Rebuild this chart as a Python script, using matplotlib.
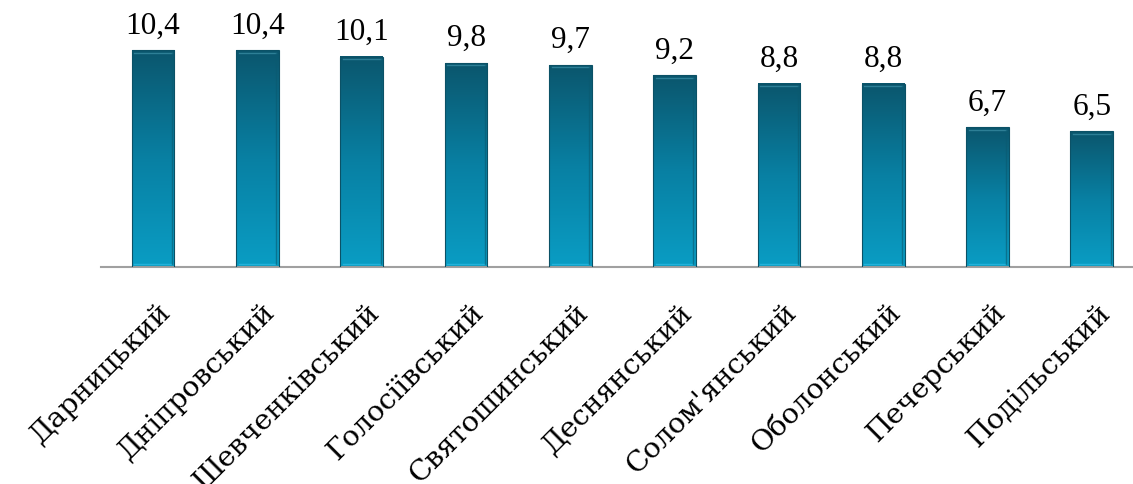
import numpy as np
import matplotlib
matplotlib.use("Agg")
import matplotlib.pyplot as plt
from matplotlib.colors import LinearSegmentedColormap

districts = ["Дарницький", "Дніпровський", "Шевченківський", "Голосіївський",
             "Святошинський", "Деснянський", "Солом'янський", "Оболонський",
             "Печерський", "Подільський"]
values = [10.4, 10.4, 10.1, 9.8, 9.7, 9.2, 8.8, 8.8, 6.7, 6.5]
value_labels = ["10,4", "10,4", "10,1", "9,8", "9,7", "9,2", "8,8", "8,8", "6,7", "6,5"]

fig = plt.figure(figsize=(11.33, 4.84), dpi=100)
ax = fig.add_axes([0.0891, 0.449, 0.9206, 0.5157])

x = np.arange(len(values))
bars = ax.bar(x, values, width=0.41, color="none", edgecolor="#0b5166", linewidth=0.8, zorder=3)

# vertical gradient, dark teal at the top to bright cyan at the bottom
cmap = LinearSegmentedColormap.from_list("bar", ["#0a9dc4", "#0880a3", "#0b566d"])
grad = np.linspace(0, 1, 256).reshape(-1, 1)
for b in bars:
    x0, w, h = b.get_x(), b.get_width(), b.get_height()
    ax.imshow(grad, cmap=cmap, aspect="auto", origin="lower",
              extent=(x0, x0 + w, 0, h), zorder=2, interpolation="bicubic")
    # bevel highlights
    ax.plot([x0 + w * 0.06, x0 + w * 0.94], [h - 0.12, h - 0.12], color="#2d7f96", lw=1.0, zorder=4)
    ax.plot([x0 + w * 0.06, x0 + w * 0.94], [0.12, 0.12], color="#22b2da", lw=1.0, zorder=4)
    ax.plot([x0 + w * 0.94, x0 + w * 0.94], [0.12, h - 0.12], color="#0a5a70", lw=1.0, zorder=4, alpha=0.6)

for xi, v, lab in zip(x, values, value_labels):
    ax.annotate(lab, (xi, v), xytext=(0, 7), textcoords="offset points",
                ha="center", va="bottom", fontsize=22.5, family="Liberation Serif", color="black")

ax.set_xlim(-0.5, len(values) - 0.5)
ax.set_ylim(0, 12)
ax.set_xticks([])
ax.set_yticks([])
for s in ["top", "right", "left"]:
    ax.spines[s].set_visible(False)
ax.spines["bottom"].set_color("#a0a0a0")
ax.spines["bottom"].set_linewidth(1.5)

for xi, name in zip(x, districts):
    ax.annotate(name, (xi, 0), xytext=(3, -23), textcoords="offset points",
                ha="right", va="top", rotation=45, rotation_mode="anchor",
                fontsize=20.5, family="DejaVu Serif", color="black",
                annotation_clip=False)

fig.savefig("out.png", dpi=100)
